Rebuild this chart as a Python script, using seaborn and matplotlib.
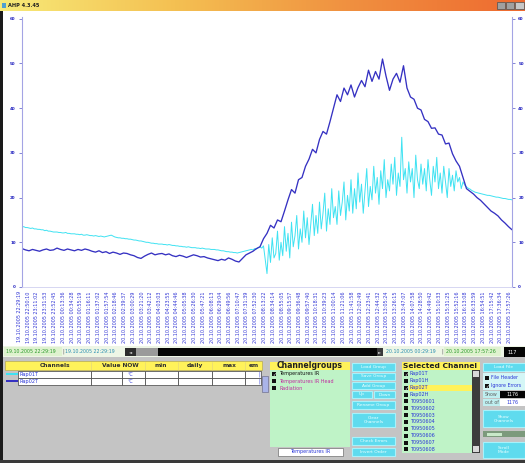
import numpy as np
import pandas as pd
import matplotlib
matplotlib.use("Agg")
import matplotlib.pyplot as plt
import matplotlib.dates as mdates
from matplotlib.patches import Rectangle
import seaborn as sns

sns.set_theme(style="white")
plt.rcParams['font.family'] = ['DejaVu Sans']

# ---- data ---------------------------------------------------------------
t_start = "2005-10-19 22:29:19"
t_end = "2005-10-20 17:57:26"

channel_names = ["Rap01T", "Rap02T"]
line_colors = ["#3fe2f2", "#3531c2"]

# Rap01T, sampled twice as densely as Rap02T (its readings are much noisier)
rap01t = [
    13.4, 13.5, 13.3, 13.3, 13.2, 13.1, 13.2, 13.0, 13.0, 12.9,
    12.9, 12.8, 12.8, 12.6, 12.7, 12.5, 12.5, 12.4, 12.3, 12.3,
    12.3, 12.2, 12.2, 12.1, 12.1, 12.2, 12.0, 12.0, 11.9, 11.9,
    11.9, 11.8, 11.8, 11.7, 11.8, 11.6, 11.6, 11.7, 11.6, 11.5,
    11.5, 11.4, 11.5, 11.4, 11.3, 11.4, 11.3, 11.2, 11.3, 11.4,
    11.5, 11.6, 11.4, 11.2, 11.1, 11.0, 11.0, 10.9, 10.9, 10.8,
    10.8, 10.7, 10.7, 10.6, 10.5, 10.5, 10.4, 10.3, 10.3, 10.2,
    10.1, 10.0, 10.0, 9.9, 9.8, 9.8, 9.7, 9.7, 9.6, 9.6,
    9.6, 9.5, 9.5, 9.4, 9.5, 9.4, 9.3, 9.3, 9.2, 9.2,
    9.1, 9.1, 9.0, 9.0, 8.9, 9.0, 8.9, 8.8, 8.8, 8.8,
    8.7, 8.7, 8.6, 8.7, 8.6, 8.5, 8.5, 8.5, 8.4, 8.4,
    8.4, 8.3, 8.3, 8.2, 8.1, 8.1, 8.0, 7.9, 7.9, 7.8,
    7.8, 7.7, 7.7, 7.6, 7.7, 7.8, 7.9, 8.0, 8.1, 8.2,
    8.3, 8.4, 8.3, 8.6, 8.5, 8.8, 9.0, 8.7, 9.2, 6.0,
    3.0, 9.5, 5.5, 11.0, 6.5, 7.5, 12.5, 6.0, 10.0, 7.0,
    13.5, 8.0, 12.0, 6.5, 14.5, 9.0, 11.5, 16.0, 8.5, 13.0,
    10.0, 17.0, 11.0, 15.5, 9.5, 14.0, 18.5, 11.5, 16.0, 12.0,
    19.0, 13.0, 16.5, 21.0, 12.5, 17.5, 14.0, 22.0, 15.5, 18.0,
    14.0, 21.5, 16.0, 19.0, 23.5, 15.0, 20.5, 17.0, 24.0, 16.5,
    22.0, 17.5, 25.5, 19.0, 23.0, 16.5, 21.5, 26.5, 18.0, 22.5,
    19.5, 27.0, 21.0, 24.5, 18.5, 26.0, 22.0, 28.5, 20.0, 24.0,
    21.5, 27.5, 23.0, 29.0, 20.5, 25.5, 22.5, 33.5, 24.0, 26.5,
    21.0, 28.0, 23.5, 26.5, 20.0, 29.5, 24.0, 22.0, 27.5, 23.0,
    26.5, 21.5, 28.5, 24.0, 20.5, 27.0, 23.5, 29.0, 22.0, 25.5,
    21.0, 27.0, 23.5, 20.0, 26.5, 22.5, 25.0, 21.5, 26.0, 23.5,
    24.5, 22.0, 23.5, 22.8, 22.4, 22.1, 21.9, 21.6, 21.4, 21.2,
    21.1, 21.0, 20.9, 20.8, 20.7, 20.6, 20.5, 20.5, 20.4, 20.3,
    20.2, 20.1, 20.1, 20.0, 19.9, 19.8, 19.8, 19.7, 19.6, 19.6,
    19.5,
]

rap02t = [
    8.6, 8.3, 8.1, 8.4, 8.2, 8.0, 8.3, 8.5, 8.2, 8.3,
    8.7, 8.4, 8.2, 8.5, 8.3, 8.1, 8.4, 8.2, 8.5, 8.3,
    8.0, 7.8, 8.1, 7.7, 7.9, 7.5, 7.8, 7.6, 7.3, 7.6,
    7.5, 7.2, 7.0, 6.6, 6.4, 6.9, 7.3, 7.6, 7.2, 7.4,
    7.5, 7.2, 7.4, 7.0, 6.8, 7.1, 6.9, 6.6, 6.9, 7.2,
    7.0, 6.7, 6.8, 6.5, 6.3, 6.1, 5.9, 6.2, 6.0, 6.5,
    6.2, 5.8, 5.6, 6.4, 7.2, 7.6, 8.0, 8.6, 9.0, 10.8,
    12.0, 13.8, 13.2, 15.0, 14.6, 17.0, 19.5, 21.8, 21.0, 24.0,
    24.5, 27.0, 28.6, 30.8, 30.0, 33.0, 34.8, 34.2, 37.0, 40.0,
    43.0, 41.5, 44.5, 43.0, 45.2, 42.5, 44.6, 46.2, 44.8, 48.5,
    46.0, 48.2, 46.5, 51.0, 47.2, 44.0, 46.5, 47.8, 45.8, 49.5,
    44.5, 42.5, 42.0, 40.0, 39.6, 37.5, 37.0, 35.5, 35.6, 34.2,
    34.0, 32.0, 32.2, 29.8, 28.2, 27.0, 24.5, 22.0, 21.4, 20.8,
    20.0, 19.4, 18.6, 17.8, 17.0, 16.5, 15.9, 15.0, 14.3, 13.5,
    12.8,
]

y_ticks = [0, 10, 20, 30, 40, 50, 60]
n_time_labels = 57
time_fmt = "%d.%m.%Y %H:%M:%S"

group_items = ["Temperatures IR", "Temperatures IR Head", "Radiation"]
group_checked = [True, False, False]
group_colors = ["#101010", "#c02ca0", "#c02ca0"]

selected_items = ["Rap01T", "Rap01H", "Rap02T", "Rap02H",
                  "T0950601", "T0950602", "T0950603", "T0950604",
                  "T0950605", "T0950606", "T0950607", "T0950608"]
selected_checked = [True, False, True, False] + [False] * 8

table_headers = ["Channels", "Value NOW", "min", "daily", "max", "em"]

# ---- figure -------------------------------------------------------------
W, H = 525, 463
fig = plt.figure(figsize=(W / 100, H / 100), dpi=100, facecolor="white")

ui = fig.add_axes([0, 0, 1, 1], zorder=0)
ui.set_xlim(0, W)
ui.set_ylim(H, 0)
ui.axis("off")


def box(x0, y0, x1, y1, fc, ec="none", lw=0.5, z=1):
    ui.add_patch(Rectangle((x0, y0), x1 - x0, y1 - y0, facecolor=fc,
                           edgecolor=ec, linewidth=lw, zorder=z))


def label(x, y, s, size=3.6, color="black", ha="left", weight="normal", z=5):
    ui.text(x, y, s, fontsize=size, color=color, ha=ha, va="center",
            fontweight=weight, zorder=z, linespacing=1.0)


# title bar
grad = np.linspace(0, 1, 256).reshape(1, -1)
title_cmap = matplotlib.colors.LinearSegmentedColormap.from_list(
    "bar", ["#f7ea78", "#f4c052", "#f09040", "#ee6a30"])
ui.imshow(grad, extent=(0, W, 11, 0), aspect="auto", cmap=title_cmap, zorder=1)
box(2, 3, 6, 8, "#50a0d0", z=2)
label(8, 5.5, "AHP 4.3.45", size=3.6, color="#202020", weight="bold")
box(497, 2, 505, 9, "#a0a0a0", "#505050", z=2)
box(506, 2, 514, 9, "#a0a0a0", "#505050", z=2)
box(515, 2, 524, 9, "#c8c8c8", "#505050", z=2)

# window frame on the left
box(0, 11, 3, H, "#1a1a1a")

# status strip under the chart
box(3, 346, W, 357, "#eef6e6")
box(4, 347, 62, 356, "#dff2cf")
label(6, 351.5, "19.10.2005 22:29:19", size=3.4, color="#2a9a2a")
label(62, 351.5, "|", size=3.4, color="#555555")
label(65, 351.5, "19.10.2005 22:29:19", size=3.4, color="#2a8fb0")
box(125, 348, 136, 356, "#2c2c2c")
label(130.5, 352, "\u25c4", size=3, color="#d0d0d0", ha="center")
box(136, 348, 158, 356, "#9a9a9a")
box(158, 348, 377, 356, "#050505")
box(377, 348, 383, 356, "#3a3a3a")
label(380, 352, "\u25ba", size=3, color="#d0d0d0", ha="center")
label(386, 351.5, "20.10.2005 00:29:19", size=3.4, color="#2a8fb0")
label(441, 351.5, "|", size=3.4, color="#555555")
box(444, 347, 501, 356, "#dff2cf")
label(446, 351.5, "20.10.2005 17:57:26", size=3.4, color="#2a9a2a")
box(504, 347, W, 357, "#050505")
label(508, 352, "117", size=3.6, color="white")

# bottom panel
box(3, 357, W, 460, "#c4c4c4")
box(0, 460, W, H, "#3a3a3a")

# channel value table
col_x = [18, 91, 145, 178, 212, 245, 262]
box(5, 361, 262, 370, "#fff25a", "#b0a040", 0.4)
header_pos = [55, 120, 161, 195, 229, 254]
for hx, ht in zip(header_pos, table_headers):
    label(hx, 365.5, ht, size=4.2, ha="center", weight="bold", color="#303030")
for cx in col_x[1:-1]:
    ui.plot([cx, cx], [361.5, 369.5], color="#e0d080", lw=0.4, zorder=3)
row_y = [(371, 377.5), (378, 384.5)]
cell_x = [18, 91, 122, 145, 178, 212, 245, 261]
for (r0, r1), name, col in zip(row_y, channel_names, line_colors):
    for a, b in zip(cell_x[:-1], cell_x[1:]):
        box(a, r0, b, r1, "white", "#404040", 0.5, z=2)
    label(20, (r0 + r1) / 2, name, size=3.6, color="#2a36d8")
    label(127, (r0 + r1) / 2, "\u00b0C", size=3.4, color="#2a36d8")
    label(258, (r0 + r1) / 2, "|", size=3.6, color="#2a36d8")
    box(6, (r0 + r1) / 2 - 1.2, 18, (r0 + r1) / 2 + 1.2, col, z=3)
box(262, 376, 268, 392, "#aab4e8", "#606080", 0.4)

# channel groups
box(270, 362, 350, 447, "#bff3c7")
box(270, 362, 350, 370, "#fff25a")
label(310, 366, "Channelgroups", size=5.6, ha="center", weight="bold", color="#202020")
for k, (item, chk, ic) in enumerate(zip(group_items, group_checked, group_colors)):
    yy = 374 + 7 * k
    box(272, yy - 2, 276, yy + 2, "#111111", z=3)
    if chk:
        label(274, yy, "\u2713", size=3.4, color="white", ha="center", weight="bold", z=6)
    label(279, yy, item, size=3.5, color=ic)
box(278, 448, 343, 456, "white", "#707070", 0.5)
label(310, 452, "Temperatures IR", size=3.5, color="#2a36d8", ha="center")

# buttons
btn_fc, btn_ec = "#5fdbee", "#a6f2fb"
buttons = [
    (352, 363, 395, 371, "Load Group"),
    (352, 373, 395, 380, "Save Group"),
    (352, 382, 395, 389, "Add Group"),
    (352, 391, 372, 398, "Up"),
    (374, 391, 395, 398, "Down"),
    (352, 401, 395, 409, "Rename Group"),
    (352, 413, 395, 427, "Clear\nChannels"),
    (352, 437, 395, 445, "Check Errors"),
    (352, 448, 395, 456, "Invert Order"),
    (483, 363, W, 371, "Load File"),
    (483, 410, W, 427, "Show\nChannels"),
    (483, 442, W, 458, "Scroll\nMode"),
]
for x0, y0, x1, y1, txt in buttons:
    box(x0, y0, x1, y1, btn_fc, btn_ec, 0.8)
    label((x0 + x1) / 2, (y0 + y1) / 2, txt, size=3.2, color="#eaffff", ha="center")

# selected channel list
box(402, 362, 480, 370, "#fff25a")
label(440, 366, "Selected Channel", size=5.4, ha="center", weight="bold", color="#202020")
box(402, 370, 472, 453, "#bff3c7")
for k, (item, chk) in enumerate(zip(selected_items, selected_checked)):
    yy = 374 + 6.85 * k
    if item == "Rap02T":
        box(409, yy - 3, 472, yy + 3, "#fff25a", z=2)
    box(404, yy - 2, 408, yy + 2, "#111111", z=3)
    if chk:
        label(406, yy, "\u2713", size=3.4, color="white", ha="center", weight="bold", z=6)
    label(410, yy, item, size=3.5, color="#2a36d8")
box(472, 370, 480, 453, "#3c3c3c")
box(473, 371, 479, 377, "#d8d8d8")
box(473, 446, 479, 452, "#d8d8d8")

# file options
box(483, 373, W, 390, "#d4f6f6")
for yy, txt, chk in [(377.5, "File Header", False), (385.5, "Ignore Errors", True)]:
    box(485, yy - 2, 489, yy + 2, "#111111", z=3)
    if chk:
        label(487, yy, "\u2713", size=3.4, color="white", ha="center", weight="bold", z=6)
    label(491, yy, txt, size=3.4, color="#2a36d8")
box(483, 391, 500, 398, "#bfeff0")
label(485, 394.5, "Show", size=3.4, color="#606060")
box(500, 391, W, 398, "#050505")
label(512, 394.5, "1176", size=3.4, color="white", ha="center")
box(483, 399, 500, 406, "#bfeff0")
label(485, 402.5, "out of", size=3.4, color="#606060")
box(500, 399, W, 406, "white")
label(512, 402.5, "1176", size=3.4, color="#2a36d8", ha="center")
box(483, 431, W, 437, "#7c9a7c")
box(487, 432.5, 502, 435.5, "#c8e8c8")

# ---- chart --------------------------------------------------------------
ax = fig.add_axes([22 / W, (H - 287) / H, 490 / W, 270 / H], zorder=2)
ax.patch.set_alpha(0)

times_01 = pd.date_range(t_start, t_end, periods=len(rap01t))
times_02 = pd.date_range(t_start, t_end, periods=len(rap02t))
long = pd.DataFrame({
    "time": np.concatenate([times_01, times_02]),
    "value": rap01t + rap02t,
    "channel": [channel_names[0]] * len(rap01t) + [channel_names[1]] * len(rap02t),
})
sns.lineplot(data=long, x="time", y="value", hue="channel",
             hue_order=channel_names, palette=line_colors,
             estimator=None, sort=False, legend=False, ax=ax)
ax.lines[0].set_linewidth(0.7)
ax.lines[1].set_linewidth(0.95)

ax.set_xlim(times_02[0], times_02[-1])
ax.set_ylim(0, 60.4)
ax.set_xlabel("")
ax.set_ylabel("")

tick_times = pd.date_range(t_start, t_end, periods=n_time_labels)
ax.set_xticks(mdates.date2num(tick_times))
ax.set_xticklabels([t.strftime(time_fmt) for t in tick_times],
                   rotation=90, ha="right", va="top",
                   fontsize=3.5, color="#3438d6")
ax.tick_params(axis="x", length=0, pad=3)

ax.set_yticks(y_ticks)
ax.set_yticklabels([str(v) for v in y_ticks])
ax.tick_params(axis="y", left=True, right=True, labelleft=True, labelright=True,
               length=2, width=0.6, color="#7070d0", direction="out",
               labelsize=2.9, labelcolor="#2424c0", pad=2.5)
for tk in ax.yaxis.get_major_ticks():
    tk.label1.set_fontweight("bold")
    tk.label2.set_fontweight("bold")

for side in ["left", "right"]:
    ax.spines[side].set_color("#a4a4e4")
    ax.spines[side].set_linewidth(0.8)
ax.spines["bottom"].set_color("#d0d0f0")
ax.spines["bottom"].set_linewidth(0.6)
ax.spines["top"].set_visible(False)
ax.grid(False)

fig.savefig("out.png", dpi=100, facecolor="white")
